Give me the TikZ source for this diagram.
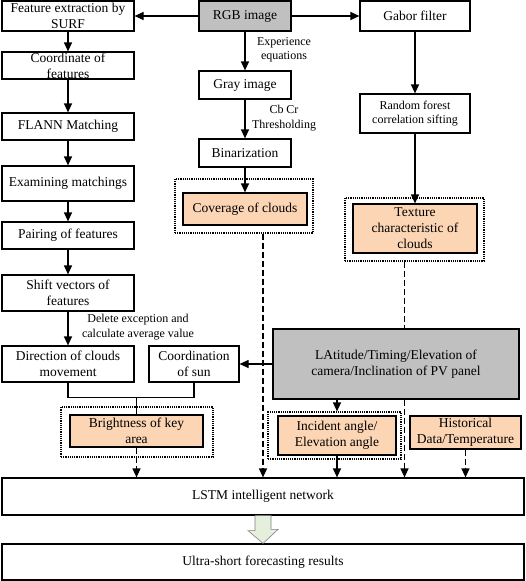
\documentclass[tikz,border=0pt]{standalone}
\usepackage{fontspec}
\setmainfont{Liberation Serif}
\usetikzlibrary{arrows.meta}
\definecolor{peach}{RGB}{252,213,180}
\definecolor{boxgray}{RGB}{192,192,192}
\definecolor{palegreen}{RGB}{228,239,220}
\begin{document}
\begin{tikzpicture}[x=1pt, y=-1pt, line width=1.2pt,
    box/.style={draw, fill=white, align=center, inner sep=0pt, font=\fontsize{13.5}{16}\selectfont},
    graybox/.style={box, fill=boxgray},
    outbox/.style={box, fill=peach},
    dotbox/.style={draw, densely dotted, inner sep=0pt},
    lbl/.style={align=center, inner sep=0pt, font=\fontsize{12}{14.5}\selectfont},
    arr/.style={-{Triangle[length=9pt,width=8pt]}},
    darr/.style={arr, dash pattern=on 6pt off 3pt}]
    \useasboundingbox (0,0) rectangle (526,581);
    % left column
    \node[box, minimum width=132, minimum height=30] (surf) at (68,16) {Feature extraction by\\SURF};
    \node[box, minimum width=132, minimum height=27] (coord) at (68,65.5) {Coordinate of\\features};
    \node[box, minimum width=132, minimum height=27] (flann) at (68,126.5) {FLANN Matching};
    \node[box, minimum width=132, minimum height=35] (exam) at (68,183.5) {Examining matchings};
    \node[box, minimum width=132, minimum height=27] (pair) at (68,235.5) {Pairing of features};
    \node[box, minimum width=132, minimum height=36] (shiftvec) at (68,293) {Shift vectors of\\features};
    \node[box, minimum width=132, minimum height=36] (dir) at (68,364) {Direction of clouds\\movement};
    \node[box, minimum width=90, minimum height=36] (sun) at (194,364) {Coordination\\of sun};
    \node[dotbox, minimum width=152, minimum height=50] (brightout) at (137,432) {};
    \node[outbox, minimum width=133, minimum height=32] (bright) at (136.5,431) {Brightness of key\\area};
    % middle column
    \node[graybox, minimum width=92, minimum height=30] (rgb) at (245,16) {RGB image};
    \node[box, minimum width=92, minimum height=28] (grayimg) at (245,85) {Gray image};
    \node[box, minimum width=92, minimum height=28] (bin) at (245,153) {Binarization};
    \node[dotbox, minimum width=138, minimum height=54] (coverout) at (244,206) {};
    \node[outbox, minimum width=124, minimum height=32] (cover) at (245,209) {Coverage of clouds};
    % right column
    \node[box, minimum width=110, minimum height=30] (gabor) at (415,16) {Gabor filter};
    \node[box, minimum width=110, minimum height=39, font=\fontsize{12}{14.5}\selectfont] (forest) at (415,113.5) {Random forest\\correlation sifting};
    \node[dotbox, minimum width=139, minimum height=63] (textureout) at (414.5,229.5) {};
    \node[outbox, minimum width=124, minimum height=49] (texture) at (415,228.5) {Texture\\characteristic of\\clouds};
    % dashed line behind the gray box
    \draw[dash pattern=on 6pt off 3pt] ([xshift=-10pt]textureout.south) -- ([xshift=-10pt]textureout.south |- 0,329);
    \node[graybox, minimum width=246, minimum height=70] (lat) at (396,364) {LAtitude/Timing/Elevation of\\camera/Inclination of PV panel};
    \node[dotbox, minimum width=133, minimum height=47] (incidentout) at (334.5,435.5) {};
    \node[outbox, minimum width=118, minimum height=39] (incident) at (337,435.5) {Incident angle/\\Elevation angle};
    \node[outbox, minimum width=111, minimum height=33] (hist) at (465.5,432.5) {Historical\\Data/Temperature};
    % bottom
    \node[box, minimum width=522, minimum height=37] (lstm) at (263,496.5) {LSTM intelligent network};
    \node[box, minimum width=522, minimum height=36] (ultra) at (263,562) {Ultra-short forecasting results};
    % labels
    \node[lbl] (expeq) at (284,50) {Experience\\equations};
    \node[lbl] (cbcr) at (284,118) {Cb Cr\\Thresholding};
    \node[lbl] (delexc) at (138,327) {Delete exception and\\calculate average value};
    % arrows
    \draw[arr] (rgb) -- (surf);
    \draw[arr] (rgb) -- (gabor);
    \draw[arr] (rgb) -- (grayimg);
    \draw[arr] (grayimg) -- (bin);
    \draw[arr] (bin) -- (cover);
    \draw[arr] (gabor) -- (forest);
    \draw[arr] (forest) -- (texture);
    \draw[arr] (surf) -- (coord);
    \draw[arr] (coord) -- (flann);
    \draw[arr] (flann) -- (exam);
    \draw[arr] (exam) -- (pair);
    \draw[arr] (pair) -- (shiftvec);
    \draw[arr] (shiftvec) -- (dir);
    \draw[arr] (lat) -- (sun);
    \draw (dir.south) -- ++(0,15) coordinate (mergept) -| (sun.south);
    \draw (mergept -| bright.north) -- (bright.north);
    \draw[arr] (lat.south -| incident.north) -- (incidentout.north -| incident.north);
    \draw[arr] (incident.south) -- (incident.south |- lstm.north);
    \draw[darr] (bright.south) -- (bright.south |- lstm.north);
    \draw[darr] (coverout.south -| lstm.north) -- (lstm.north);
    \draw[darr] ([xshift=-10pt]textureout.south |- lat.south) -- ([xshift=-10pt]textureout.south |- lstm.north);
    \draw[darr] (hist.south) -- (hist.south |- lstm.north);
    % hollow arrow
    \draw[draw=gray, fill=palegreen, line width=0.6pt] ([xshift=-8pt]lstm.south) -- ++(0,15) -- ++(-7,0)
        -- (ultra.north) -- ++(15,-14) -- ++(-7,0) -- ([xshift=8pt]lstm.south) -- cycle;
\end{tikzpicture}
\end{document}
